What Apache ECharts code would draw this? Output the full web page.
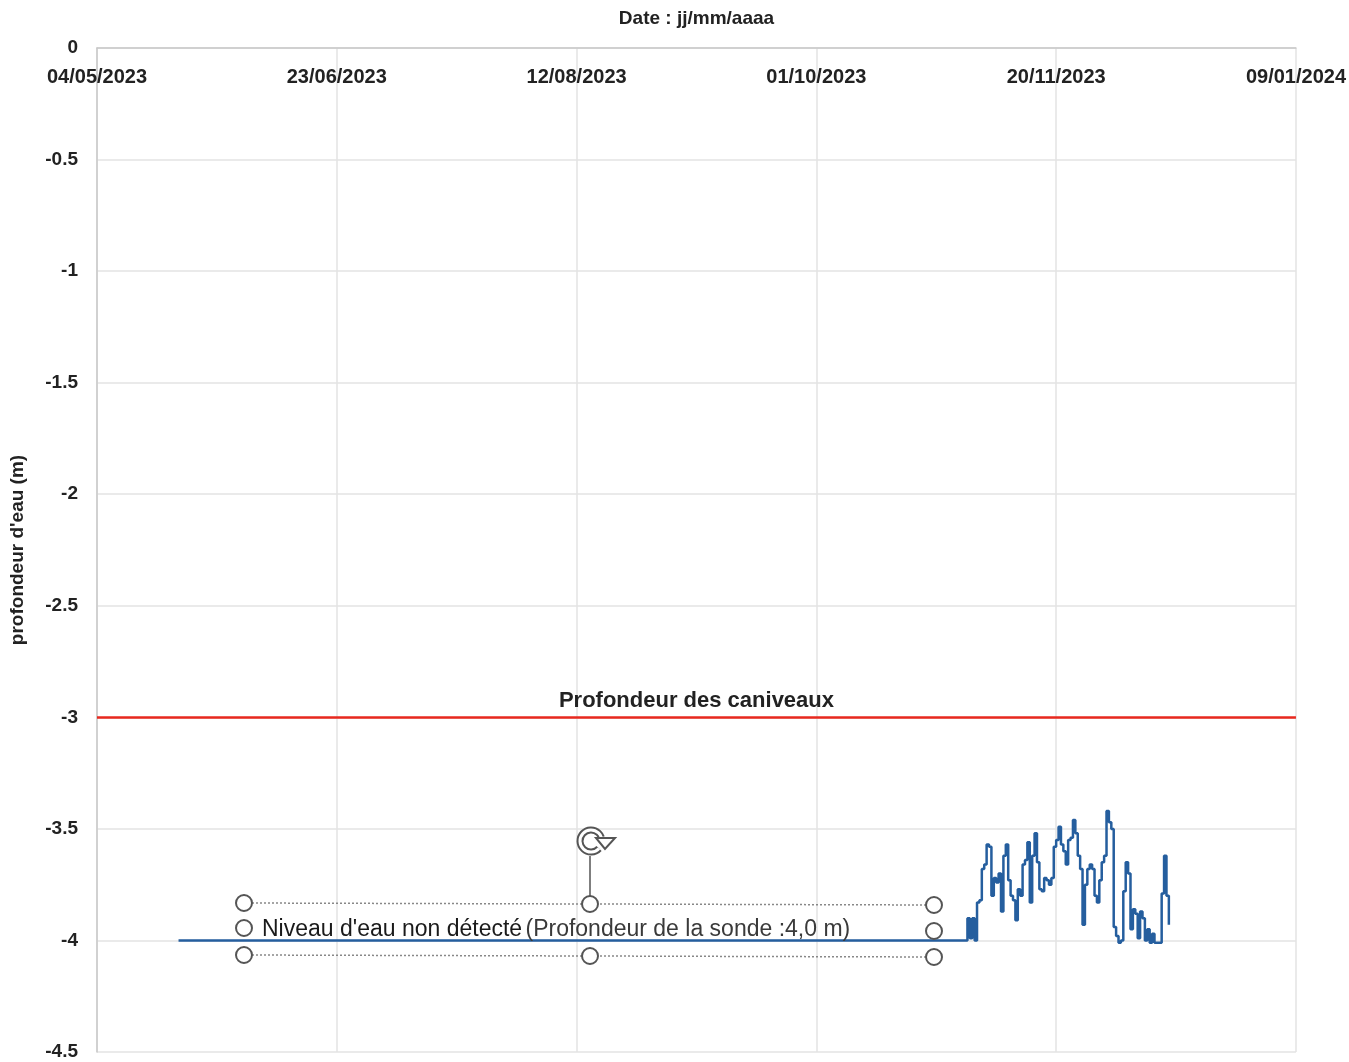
<!DOCTYPE html>
<html>
<head>
<meta charset="utf-8">
<script src="https://cdn.jsdelivr.net/npm/echarts@6/dist/echarts.min.js"></script>
<style>
html,body{margin:0;padding:0;background:#fff;}
#chart{width:1349px;height:1062px;}
</style>
</head>
<body>
<div id="chart"></div>
<script>
// ---- data ----
const axisStart = '2023-05-04';
const xTickLabels = ['04/05/2023','23/06/2023','12/08/2023','01/10/2023','20/11/2023','09/01/2024'];
const xTickStepDays = 50;
const yTicks = [0,-0.5,-1,-1.5,-2,-2.5,-3,-3.5,-4,-4.5];

const caniveauLevel = -3;
const caniveauName = 'Profondeur des caniveaux';

const flatDates = ['2023-05-21','2023-11-01'];
const flatLevels = [-4.0,-4.0];

const sondeStart = '2023-11-01';
const sondeStepHours = 12;
const sondeLevels = [
 -4.00,-3.90,-3.99,-3.90,-4.00,-3.83,-3.82,-3.68,-3.66,-3.57,
 -3.58,-3.80,-3.72,-3.74,-3.70,-3.87,-3.62,-3.57,-3.73,-3.80,
 -3.82,-3.91,-3.77,-3.80,-3.66,-3.64,-3.56,-3.83,-3.62,-3.52,
 -3.65,-3.77,-3.78,-3.72,-3.73,-3.75,-3.72,-3.58,-3.55,-3.49,
 -3.57,-3.60,-3.66,-3.55,-3.54,-3.46,-3.52,-3.62,-3.68,-3.93,
 -3.75,-3.68,-3.66,-3.68,-3.80,-3.83,-3.73,-3.65,-3.62,-3.42,
 -3.47,-3.50,-3.94,-3.98,-4.01,-4.00,-3.78,-3.65,-3.70,-3.95,
 -3.86,-3.88,-3.99,-3.87,-3.90,-4.00,-3.95,-4.01,-3.97,-4.01,
 -4.01,-4.01,-3.79,-3.62,-3.80,-3.93
];

const annotationMain = "Niveau d'eau non détecté";
const annotationSub = "(Profondeur de la sonde :4,0 m)";

// ---- helpers ----
function dayOffset(s){
  return (Date.parse(s + 'T00:00:00Z') - Date.parse(axisStart + 'T00:00:00Z')) / 86400000;
}
const blueData = flatDates.map((d,i)=>[dayOffset(d), flatLevels[i]]);
const s0 = dayOffset(sondeStart);
sondeLevels.forEach((v,i)=>blueData.push([s0 + i*sondeStepHours/24, v]));

const FONT = 'Liberation Sans, Arial, sans-serif';
const chart = echarts.init(document.getElementById('chart'));

const circ = (x,y)=>({type:'circle', shape:{cx:x, cy:y, r:8}, style:{fill:'#fff', stroke:'#555', lineWidth:2}, z:100});
const dline = (x1,y1,x2,y2)=>({type:'line', shape:{x1,y1,x2,y2}, style:{stroke:'#888', lineWidth:1.5, lineDash:[2,2]}, z:99});

chart.setOption({
  animation:false,
  backgroundColor:'#fff',
  grid:{left:93, right:52, top:48, bottom:10, containLabel:false},
  xAxis:{
    type:'value', position:'top',
    min:0, max:xTickStepDays*(xTickLabels.length-1), interval:xTickStepDays,
    name:'Date : jj/mm/aaaa', nameLocation:'middle', nameGap:20,
    nameTextStyle:{fontFamily:FONT, fontWeight:'bold', fontSize:19, color:'#222'},
    axisLine:{show:true, lineStyle:{color:'#c8c8c8', width:1.5}},
    axisTick:{show:false},
    axisLabel:{inside:true, margin:19, fontFamily:FONT, fontWeight:'bold', fontSize:20, color:'#222',
      formatter:(v)=>xTickLabels[Math.round(v/xTickStepDays)] || ''},
    splitLine:{show:true, lineStyle:{color:'#e3e3e3', width:1.5}}
  },
  yAxis:{
    type:'value', min:yTicks[yTicks.length-1], max:yTicks[0], interval:0.5,
    name:"profondeur d'eau (m)", nameLocation:'middle', nameGap:70,
    nameTextStyle:{fontFamily:FONT, fontWeight:'bold', fontSize:19, color:'#222'},
    axisLine:{show:true, lineStyle:{color:'#c8c8c8', width:1.5}},
    axisTick:{show:false},
    axisLabel:{margin:19, fontFamily:FONT, fontWeight:'bold', fontSize:19, color:'#222'},
    splitLine:{show:true, lineStyle:{color:'#e3e3e3', width:1.5}}
  },
  series:[
    {
      name:caniveauName, type:'line', data:[], silent:true,
      markLine:{
        symbol:'none', silent:true,
        lineStyle:{color:'#e8281e', width:2.5, type:'solid'},
        label:{show:true, position:'insideMiddleTop', formatter:caniveauName, distance:5,
          fontFamily:FONT, fontWeight:'bold', fontSize:22, color:'#222'},
        data:[{yAxis:caniveauLevel}]
      }
    },
    {
      name:'Niveau d\'eau', type:'line', step:'end', showSymbol:false, symbol:'none',
      data:blueData,
      lineStyle:{color:'#255e9e', width:2.5}
    }
  ],
  graphic:[
    dline(244,903,934,905),
    dline(244,955,934,957),
    {type:'line', shape:{x1:590,y1:856,x2:590,y2:896}, style:{stroke:'#555', lineWidth:1.5}, z:99},
    circ(244,903), circ(590,904), circ(934,905),
    circ(244,928), circ(934,931),
    circ(244,955), circ(590,956), circ(934,957),
    {type:'arc', shape:{cx:591, cy:841, r:11, startAngle:0.75, endAngle:5.95, clockwise:true}, style:{stroke:'#555', lineWidth:7, fill:null}, z:100},
    {type:'arc', shape:{cx:591, cy:841, r:11, startAngle:0.75, endAngle:5.95, clockwise:true}, style:{stroke:'#fff', lineWidth:3, fill:null}, z:101},
    {type:'polygon', shape:{points:[[596,838],[615,838],[605,849]]}, style:{fill:'#fff', stroke:'#555', lineWidth:2}, z:102},
    {type:'text', left:262, top:918, z:103,
      style:{text:'{a|' + annotationMain + '} {b|' + annotationSub + '}',
        rich:{a:{fontFamily:FONT, fontSize:23, fill:'#1a1a1a', color:'#1a1a1a'},
              b:{fontFamily:FONT, fontSize:23, fill:'#3a3a3a', color:'#3a3a3a'}}}}
  ]
});
</script>
</body>
</html>
